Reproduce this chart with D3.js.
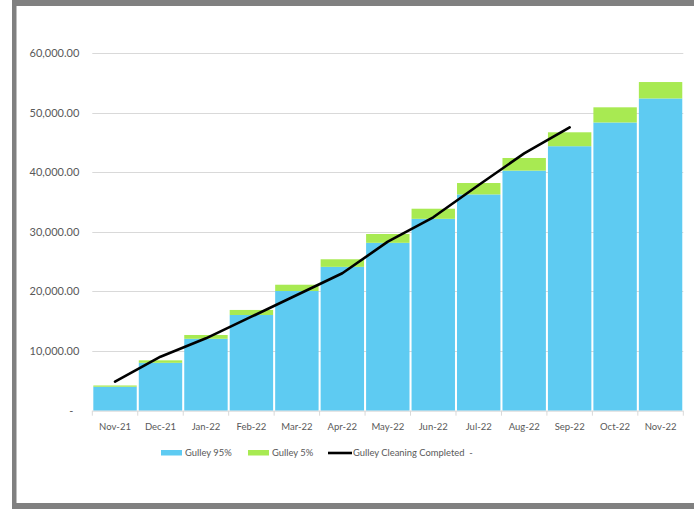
<!DOCTYPE html>
<html>
<head>
<meta charset="utf-8">
<script src="https://cdn.jsdelivr.net/npm/d3@7"></script>
<style>
  html, body { margin: 0; padding: 0; background: #fff; }
  svg { display: block; }
  text { font-family: Lato, "Open Sans", sans-serif; fill: #595959; }
</style>
</head>
<body>
<svg id="chart" width="694" height="509"></svg>
<script>
// Monthly gulley cleaning figures (cumulative)
const months = ["Nov-21", "Dec-21", "Jan-22", "Feb-22", "Mar-22", "Apr-22", "May-22",
                "Jun-22", "Jul-22", "Aug-22", "Sep-22", "Oct-22", "Nov-22"];
const gulley95 = [4020, 8030, 12065, 16055, 20075, 24130, 28160, 32185, 36280, 40270, 44365, 48345, 52375];
const gulley5  = [210, 420, 635, 845, 1055, 1270, 1480, 1695, 1910, 2120, 2335, 2545, 2755];
const completed = [4860, 9060, 12140, 15770, 19400, 23050, 28350, 32440, 37860, 43170, 47520];
const yTicks = [0, 10000, 20000, 30000, 40000, 50000, 60000];
const yTickLabels = ["-", "10,000.00", "20,000.00", "30,000.00", "40,000.00", "50,000.00", "60,000.00"];
const legendLabels = ["Gulley 95%", "Gulley 5%", "Gulley Cleaning Completed  -"];

const colors = { blue: "#5ECBF2", green: "#A8EA52", line: "#000000", grid: "#D9D9D9", frame: "#808080" };

const svg = d3.select("#chart");

// Outer frame (top, left and bottom edges)
svg.append("rect").attr("x", 12).attr("y", 0).attr("width", 694 - 12).attr("height", 6).attr("fill", colors.frame);
svg.append("rect").attr("x", 12).attr("y", 0).attr("width", 4.5).attr("height", 509).attr("fill", colors.frame);
svg.append("rect").attr("x", 12).attr("y", 503).attr("width", 694 - 12).attr("height", 6).attr("fill", colors.frame);

const plot = { left: 92.3, right: 683.3, top: 53, bottom: 410.7 };

const x = d3.scaleBand().domain(months).range([plot.left, plot.right])
  .paddingInner(0.045).paddingOuter(0.0225);
const xEdge = d3.scaleBand().domain(months).range([plot.left, plot.right]).padding(0);
const y = d3.scaleLinear().domain([0, 60000]).range([plot.bottom, plot.top]);

// Horizontal gridlines
svg.append("g").selectAll("line").data(yTicks.filter(d => d > 0)).join("line")
  .attr("x1", plot.left).attr("x2", plot.right)
  .attr("y1", d => Math.round(y(d)) + 0.5).attr("y2", d => Math.round(y(d)) + 0.5)
  .attr("stroke", colors.grid).attr("stroke-width", 1);

// Y axis labels
const yAxis = d3.axisLeft(y).tickValues(yTicks)
  .tickFormat((d, i) => yTickLabels[i]).tickSize(0).tickPadding(13);
const yg = svg.append("g").attr("transform", `translate(${plot.left},0)`).call(yAxis);
yg.select(".domain").remove();
yg.selectAll("text").style("font-size", "11px").attr("fill", "#595959")
  .attr("dx", (d) => d === 0 ? -6 : 0);

// Stacked bars
const stackData = months.map((m, i) => ({ month: m, g95: gulley95[i], g5: gulley5[i] }));
const series = d3.stack().keys(["g95", "g5"])(stackData);
const fills = { g95: colors.blue, g5: colors.green };
svg.append("g").selectAll("g").data(series).join("g")
  .attr("fill", s => fills[s.key])
  .selectAll("rect").data(s => s).join("rect")
  .attr("x", d => x(d.data.month))
  .attr("width", x.bandwidth())
  .attr("y", d => y(d[1]))
  .attr("height", d => y(d[0]) - y(d[1]));

// X axis baseline and category ticks
const xg = svg.append("g").attr("transform", `translate(0,${plot.bottom})`);
xg.append("line").attr("x1", plot.left).attr("x2", plot.right).attr("y1", 0.5).attr("y2", 0.5)
  .attr("stroke", colors.grid);
const edges = months.map(m => xEdge(m)).concat([plot.right]);
xg.selectAll("line.tick").data(edges).join("line").attr("class", "tick")
  .attr("x1", d => d).attr("x2", d => d).attr("y1", 0).attr("y2", 5)
  .attr("stroke", colors.grid);
xg.selectAll("text").data(months).join("text")
  .attr("x", d => x(d) + x.bandwidth() / 2).attr("y", 19)
  .attr("text-anchor", "middle").style("font-size", "9.5px").text(d => d);

// Completed line
const line = d3.line().x((d, i) => x(months[i]) + x.bandwidth() / 2).y(d => y(d));
svg.append("path").datum(completed).attr("d", line)
  .attr("fill", "none").attr("stroke", colors.line).attr("stroke-width", 2.6)
  .attr("stroke-linejoin", "round").attr("stroke-linecap", "round");

// Legend
const lg = svg.append("g");
const ly = 453;
const lfs = "9.4px";
lg.append("rect").attr("x", 161).attr("y", ly - 3).attr("width", 21).attr("height", 5.5).attr("fill", colors.blue);
lg.append("text").attr("x", 185).attr("y", ly).attr("dy", "0.35em").style("font-size", lfs).text(legendLabels[0]);
lg.append("rect").attr("x", 248).attr("y", ly - 3).attr("width", 21).attr("height", 5.5).attr("fill", colors.green);
lg.append("text").attr("x", 272).attr("y", ly).attr("dy", "0.35em").style("font-size", lfs).text(legendLabels[1]);
lg.append("line").attr("x1", 328).attr("x2", 352).attr("y1", ly).attr("y2", ly)
  .attr("stroke", colors.line).attr("stroke-width", 2.6);
lg.append("text").attr("x", 353).attr("y", ly).attr("dy", "0.35em").style("font-size", lfs)
  .style("white-space", "pre").text(legendLabels[2]);
</script>
</body>
</html>
